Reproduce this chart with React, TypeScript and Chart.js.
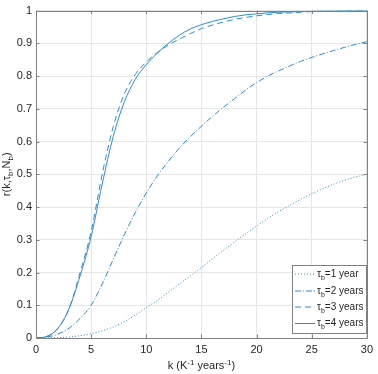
import React, { useEffect, useRef } from 'react';
import { Chart, registerables } from 'chart.js';
Chart.register(...registerables);

const kValues = [0,1,2,3,4,5,6,7,8,9,10,11,12,13,14,15,16,17,18,19,20,21,22,23,24,25,26,27,28,29,30];
const tau1 = [0,0.0003,0.001,0.003,0.007,0.013,0.022,0.034,0.05,0.07,0.093,0.115,0.14,0.165,0.19,0.215,0.242,0.268,0.293,0.318,0.342,0.365,0.386,0.405,0.424,0.441,0.456,0.47,0.482,0.492,0.5];
const tau2 = [0,0.003,0.012,0.03,0.06,0.1,0.165,0.24,0.315,0.383,0.443,0.495,0.54,0.58,0.615,0.647,0.677,0.705,0.731,0.757,0.78,0.8,0.816,0.831,0.845,0.857,0.868,0.878,0.888,0.897,0.905];
const tau3 = [0,0.005,0.03,0.09,0.2,0.325,0.5,0.645,0.745,0.805,0.843,0.872,0.895,0.913,0.93,0.945,0.956,0.965,0.973,0.979,0.984,0.988,0.991,0.993,0.995,0.997,0.998,0.998,0.999,0.999,1];
const tau4 = [0,0.005,0.03,0.09,0.19,0.31,0.47,0.615,0.72,0.79,0.835,0.87,0.9,0.925,0.944,0.957,0.967,0.975,0.982,0.987,0.99,0.993,0.995,0.996,0.997,0.998,0.999,0.999,1,1,1];
const legendLabels = ['1 year', '2 years', '3 years', '4 years'];
const xTicks = [0, 5, 10, 15, 20, 25, 30];

const LINE = '#2b8cd6';
const AXIS = '#808080';
const TEXT = '#262626';
const FONT = '"Liberation Sans", Arial, sans-serif';
const dashes = [[1, 2], [6, 2, 1, 2], [6, 4], []];

type Seg = { t: string; s?: 'sup' | 'sub' };

function drawRich(ctx: CanvasRenderingContext2D, segs: Seg[], x: number, y: number, size: number, align: 'left' | 'center') {
  const small = Math.round(size * 0.72);
  let total = 0;
  for (const sg of segs) {
    ctx.font = `${sg.s ? small : size}px ${FONT}`;
    total += ctx.measureText(sg.t).width;
  }
  let cx = align === 'center' ? x - total / 2 : x;
  ctx.textAlign = 'left';
  ctx.textBaseline = 'alphabetic';
  for (const sg of segs) {
    ctx.font = `${sg.s ? small : size}px ${FONT}`;
    const dy = sg.s === 'sup' ? -size * 0.4 : sg.s === 'sub' ? size * 0.3 : 0;
    ctx.fillText(sg.t, cx, y + dy);
    cx += ctx.measureText(sg.t).width;
  }
}

const decor = {
  id: 'decor',
  afterDraw(chart: any) {
    const ctx = chart.ctx as CanvasRenderingContext2D;
    const { left, right, top, bottom } = chart.chartArea;
    const xs = chart.scales.x;
    const ys = chart.scales.y;
    ctx.save();
    ctx.strokeStyle = AXIS;
    ctx.lineWidth = 1;
    ctx.beginPath();
    ctx.rect(Math.round(left) + 0.5, Math.round(top) + 0.5, Math.round(right - left), Math.round(bottom - top));
    ctx.stroke();
    const tl = 3.5;
    ctx.beginPath();
    for (const v of xTicks) {
      const px = Math.round(xs.getPixelForValue(v)) + 0.5;
      ctx.moveTo(px, bottom); ctx.lineTo(px, bottom - tl);
      ctx.moveTo(px, top); ctx.lineTo(px, top + tl);
    }
    for (let i = 0; i <= 10; i++) {
      const py = Math.round(ys.getPixelForValue(i / 10)) + 0.5;
      ctx.moveTo(left, py); ctx.lineTo(left + tl, py);
      ctx.moveTo(right, py); ctx.lineTo(right - tl, py);
    }
    ctx.stroke();

    // axis titles
    ctx.fillStyle = TEXT;
    drawRich(ctx, [{ t: 'k (K' }, { t: '-1', s: 'sup' }, { t: ' years' }, { t: '-1', s: 'sup' }, { t: ')' }], (left + right) / 2, 369, 11, 'center');
    ctx.save();
    ctx.translate(10, (top + bottom) / 2);
    ctx.rotate(-Math.PI / 2);
    drawRich(ctx, [{ t: 'r(k,\u03c4' }, { t: 'b', s: 'sub' }, { t: ',N' }, { t: 'b', s: 'sub' }, { t: ')' }], 0, 0, 11, 'center');
    ctx.restore();

    // legend
    const lx = 292, ly = 265, lw = 74, lh = 68;
    ctx.fillStyle = '#ffffff';
    ctx.fillRect(lx, ly, lw, lh);
    ctx.strokeStyle = AXIS;
    ctx.strokeRect(lx + 0.5, ly + 0.5, lw, lh);
    const rows = [273.5, 290.5, 306.5, 323];
    rows.forEach((ry, i) => {
      ctx.strokeStyle = LINE;
      ctx.lineWidth = 1;
      ctx.setLineDash(dashes[i]);
      ctx.beginPath();
      ctx.moveTo(295, ry + 0.5);
      ctx.lineTo(315, ry + 0.5);
      ctx.stroke();
      ctx.setLineDash([]);
      ctx.fillStyle = TEXT;
      drawRich(ctx, [{ t: '\u03c4' }, { t: 'b', s: 'sub' }, { t: '=' + legendLabels[i] }], 317, ry + 3, 10, 'left');
    });
    ctx.restore();
  },
};

export default function App() {
  const ref = useRef<HTMLCanvasElement>(null);
  useEffect(() => {
    document.body.style.margin = '0';
    const series = [tau1, tau2, tau3, tau4];
    const chart = new Chart(ref.current!, {
      type: 'scatter',
      data: {
        datasets: series.map((s, i) => ({
          label: legendLabels[i],
          data: kValues.map((k, j) => ({ x: k, y: s[j] })),
          showLine: true,
          borderColor: LINE,
          borderWidth: 1,
          borderDash: dashes[i],
          pointRadius: 0,
          cubicInterpolationMode: 'monotone' as const,
          fill: false,
        })),
      },
      options: {
        responsive: false,
        animation: false,
        layout: { padding: { top: 4, right: 6, left: 0, bottom: 0 } },
        plugins: { legend: { display: false }, tooltip: { enabled: false } },
        scales: {
          x: {
            type: 'linear',
            min: 0,
            max: 30,
            afterBuildTicks: (s: any) => { s.ticks = xTicks.map((v) => ({ value: v })); },
            afterFit: (s: any) => { s.height = 36; },
            grid: { color: '#e6e6e6', drawTicks: false },
            border: { display: false },
            ticks: { padding: 5, color: TEXT, font: { family: FONT, size: 11 }, maxRotation: 0 },
          },
          y: {
            type: 'linear',
            min: 0,
            max: 1,
            afterBuildTicks: (s: any) => { s.ticks = Array.from({ length: 11 }, (_, i) => ({ value: i / 10 })); },
            afterFit: (s: any) => { s.width = 36; },
            grid: { color: '#e6e6e6', drawTicks: false },
            border: { display: false },
            ticks: {
              padding: 4,
              color: TEXT,
              font: { family: FONT, size: 11 },
              callback: (v: any) => String(+Number(v).toFixed(1)),
            },
          },
        },
      },
      plugins: [decor],
    });
    return () => chart.destroy();
  }, []);
  return (
    <div style={{ position: 'absolute', left: 0, top: 0, width: 378, height: 374 }}>
      <canvas ref={ref} width={378} height={374} />
    </div>
  );
}
